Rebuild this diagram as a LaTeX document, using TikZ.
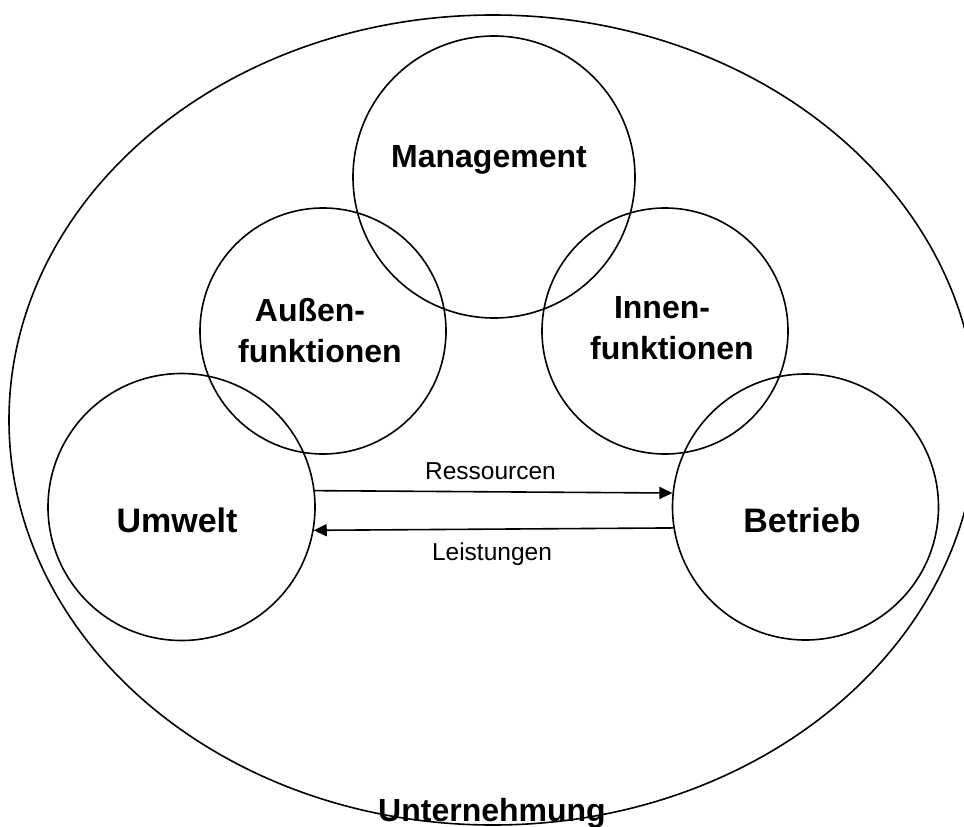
\documentclass[tikz,border=0pt]{standalone}
\usepackage{fontspec}
\setmainfont{Liberation Sans}
\usetikzlibrary{arrows.meta,shapes.geometric}

\begin{document}
\begin{tikzpicture}[x=1pt,y=-1pt,
  ring/.style={circle, draw, line width=1.6pt, inner sep=0pt},
  hull/.style={ellipse, draw, line width=1.6pt, inner sep=0pt},
  bigtitle/.style={font=\bfseries\fontsize{32}{41}\selectfont, inner sep=0pt, align=center},
  sidetitle/.style={font=\bfseries\fontsize{34}{41}\selectfont, inner sep=0pt},
  flowlabel/.style={font=\fontsize{24.5}{30}\selectfont, inner sep=0pt},
  flow/.style={line width=1.6pt, -{Triangle[length=13pt,width=12pt]}}]
\useasboundingbox (0,0) rectangle (964,827);
\clip (0,0) rectangle (964,827);

% enterprise boundary
\node[hull, minimum width=968pt, minimum height=810pt] (firm) at (493,420) {};

% functional areas
\node[ring, minimum size=282pt] (mgmt)    at (494,177)   {};
\node[ring, minimum size=246pt] (aussen)  at (323,331)   {};
\node[ring, minimum size=246pt] (innen)   at (665,331)   {};
\node[ring, minimum size=267pt] (umwelt)  at (181.5,507) {};
\node[ring, minimum size=266pt] (betrieb) at (805.5,507) {};

% titles
\node[bigtitle, anchor=base]  (tmgmt)    at (489,167) {Management};
\node[bigtitle]               (taussen)  at (320,331) {Außen-\hspace*{20pt}\\funktionen};
\node[bigtitle]               (tinnen)   at (672,328) {Innen-\hspace*{20pt}\\funktionen};
\node[sidetitle, anchor=base] (tumwelt)  at (177,532) {Umwelt};
\node[sidetitle, anchor=base] (tbetrieb) at (802,532) {Betrieb};
\node[bigtitle, anchor=base]  (tfirm)    at (492,821) {Unternehmung};

% exchange between environment and operations
\draw[flow] (umwelt.7) -- (betrieb.174);
\draw[flow] (betrieb.189.5) -- (umwelt.350.5);
\node[flowlabel, anchor=base] (tres)  at (490.5,479) {Ressourcen};
\node[flowlabel, anchor=base] (tleis) at (492,560)   {Leistungen};
\end{tikzpicture}
\end{document}
